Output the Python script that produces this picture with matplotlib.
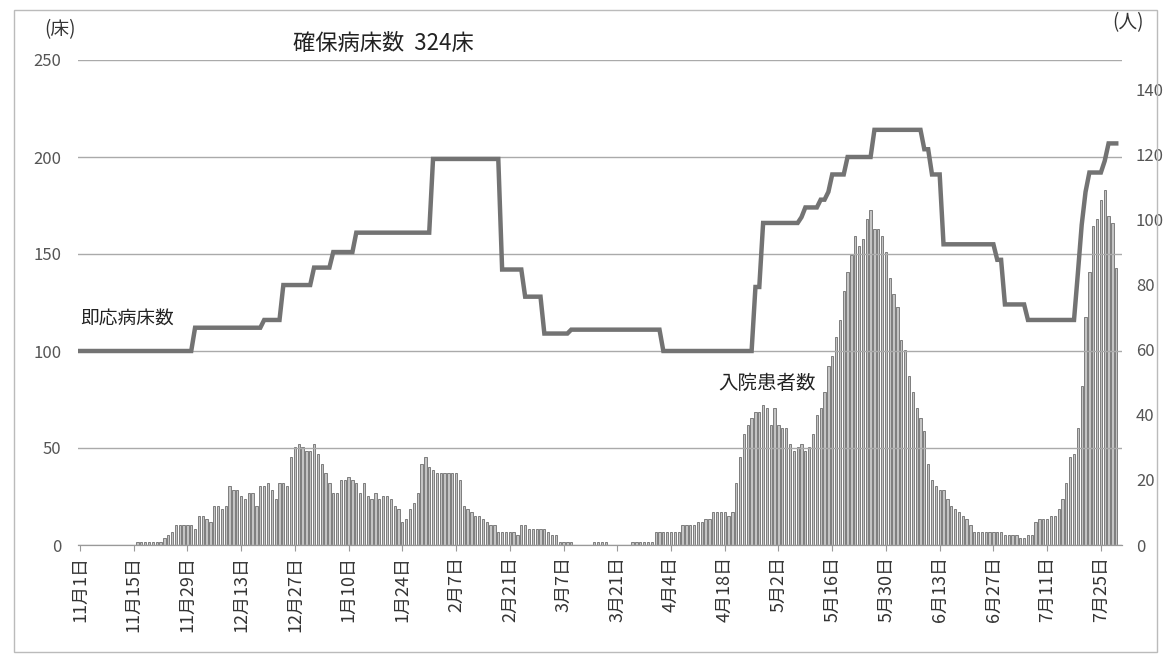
import numpy as np
import matplotlib.pyplot as plt
from matplotlib.patches import Rectangle

plt.rcParams['font.family'] = ['Noto Sans CJK JP', 'DejaVu Sans']

# daily data, 2020/11/1 .. 2021/7/29
tick_days = list(range(0, 267, 14))
tick_labels = ['11月1日', '11月15日', '11月29日', '12月13日', '12月27日', '1月10日',
               '1月24日', '2月7日', '2月21日', '3月7日', '3月21日', '4月4日', '4月18日',
               '5月2日', '5月16日', '5月30日', '6月13日', '6月27日', '7月11日', '7月25日']

# 入院患者数 (人)
patients = [
    0, 0, 0, 0, 0, 0, 0, 0, 0, 0, 0, 0, 0, 0, 0,          # 11/1-
    1, 1, 1, 1, 1, 1, 1, 2, 3, 4, 6, 6, 6, 6, 6,          # 11/16-
    5, 9, 9, 8, 7, 12, 12, 11, 12, 18,                    # 12/1-
    17, 17, 15, 14, 16, 16, 12, 18, 18, 19,
    17, 14, 19, 19, 18, 27, 30, 31, 30, 29,
    29, 31, 28, 25, 22, 19, 16, 16, 20, 20,               # 12/31-
    21, 20, 19, 16, 19, 15, 14, 16, 14, 15,
    15, 14, 12, 11, 7, 8, 11, 13, 16, 25,
    27, 24, 23, 22, 22, 22, 22, 22, 22, 20,               # 1/30-
    12, 11, 10, 9, 9, 8, 7, 6, 6, 4,
    4, 4, 4, 4, 3, 6, 6, 5, 5, 5,
    5, 5, 4, 3, 3, 1, 1, 1, 1, 0,                         # 3/1-
    0, 0, 0, 0, 1, 1, 1, 1, 0, 0,
    0, 0, 0, 0, 1, 1, 1, 1, 1, 1,
    4, 4, 4, 4, 4, 4, 4, 6, 6, 6,                         # 3/31-
    6, 7, 7, 8, 8, 10, 10, 10, 10, 9,
    10, 19, 27, 34, 37, 39, 41, 41, 43, 42,
    37, 42, 37, 36, 36, 31, 29, 30, 31, 29,               # 4/30-
    30, 34, 40, 42, 47, 55, 58, 64, 69, 78,
    84, 89, 95, 92, 94, 100, 103, 97, 97, 95,
    90, 82, 77, 73, 63, 60, 52, 47, 42, 39,               # 5/30-
    35, 25, 20, 18, 17, 17, 14, 12, 11, 10,
    9, 8, 6, 4, 4, 4, 4, 4, 4, 4,
    4, 3, 3, 3, 3, 2, 2, 3, 3, 7,                         # 6/29-
    8, 8, 8, 9, 9, 11, 14, 19, 27, 28,
    36, 49, 70, 84, 98, 100, 106, 109, 101, 99,
    85,
]

# 即応病床数 (床): day the level starts, level
bed_start = [0, 30, 48, 53, 61, 66, 72, 92, 110, 116, 121, 128, 152,
             176, 178, 188, 189, 193, 195, 196, 200, 207, 220, 222, 225,
             239, 241, 247, 260, 261, 262, 263, 267, 268]
bed_level = [100, 112, 116, 134, 143, 151, 161, 199, 142, 128, 109, 111, 100,
             133, 166, 169, 174, 178, 182, 191, 200, 214, 204, 191, 155,
             147, 124, 116, 140, 165, 182, 192, 198, 207]

days = np.arange(len(patients))
beds = np.repeat(bed_level, np.diff(bed_start + [len(patients)]))

fig = plt.figure(figsize=(11.7, 6.65), dpi=100)
fig.patches.append(Rectangle((14/1170, 1-652/665), (1157-14)/1170, (652-10)/665,
                             transform=fig.transFigure, fill=False,
                             edgecolor='#bbbbbb', lw=1))

ax = fig.add_axes([78/1170, 1-545/665, (1122-78)/1170, (545-60)/665])
ax2 = ax.twinx()

ax2.bar(days, patients, width=0.6, color='#c4c4c4', edgecolor='#6e6e6e', linewidth=0.6)
ax2.set_ylim(0, 149)
ax2.set_yticks(range(0, 141, 20))

ax.plot(days, beds, color='#737373', lw=3.2, solid_joinstyle='miter')
ax.set_ylim(0, 250)
ax.set_yticks(range(0, 251, 50))
ax.set_xlim(-0.5, 271.5)
ax.set_xticks(tick_days)
ax.set_xticklabels(tick_labels, rotation=90, fontsize=13, color='#333333')
ax.yaxis.grid(True, color='#aaaaaa', lw=1)
ax.set_axisbelow(True)

ax.set_zorder(ax2.get_zorder() + 1)
ax.patch.set_visible(False)

for a in (ax, ax2):
    for s in ['top', 'left', 'right']:
        a.spines[s].set_visible(False)
    a.spines['bottom'].set_color('#999999')
ax.tick_params(axis='y', length=0, pad=12, labelsize=12, labelcolor='#555555')
ax2.tick_params(axis='y', length=0, pad=10, labelsize=12, labelcolor='#555555')
ax.tick_params(axis='x', length=4, color='#999999', pad=4)

ax.text(0, 117, '即応病床数', fontsize=13.5, ha='left', va='center', color='#222222')
ax.text(179, 83.5, '入院患者数', fontsize=14, ha='center', va='center', color='#222222')

fig.text(60/1170, 1-30/665, '(床)', fontsize=13.5, ha='center', va='center', color='#333333')
fig.text(1128/1170, 1-23/665, '(人)', fontsize=13.5, ha='center', va='center', color='#333333')
fig.text(383/1170, 1-43/665, '確保病床数  324床', fontsize=16, ha='center', va='center',
         color='#222222')

fig.savefig('out.png', dpi=100)
